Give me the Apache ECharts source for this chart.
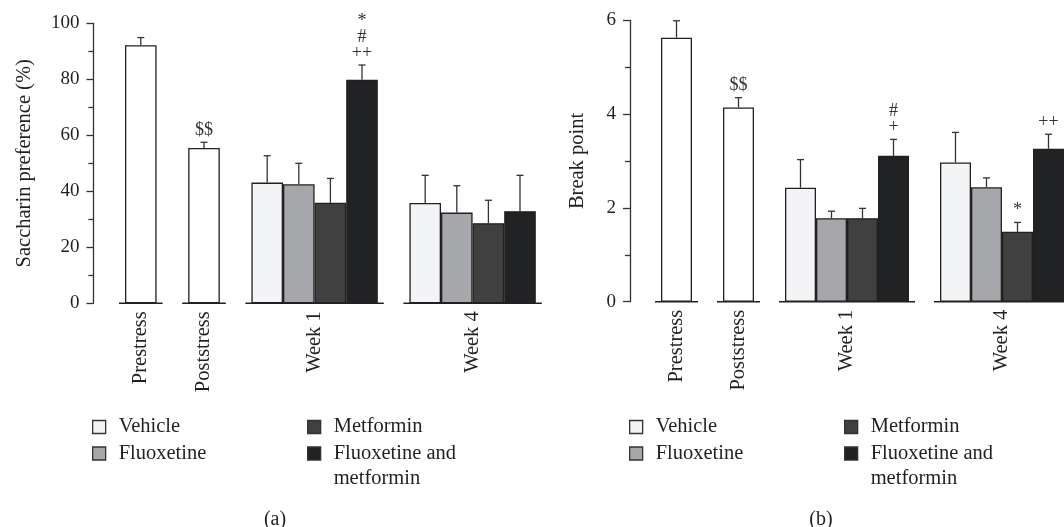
<!DOCTYPE html>
<html>
<head>
<meta charset="utf-8">
<script src="https://cdn.jsdelivr.net/npm/echarts@6/dist/echarts.min.js"></script>
<style>
  html, body { margin: 0; padding: 0; background: #fff; }
  #chart { width: 1064px; height: 527px; }
</style>
</head>
<body>
<div id="chart"></div>
<script>
// categories
const groups = ['Prestress', 'Poststress', 'Week 1', 'Week 4'];
const treatments = ['Vehicle', 'Fluoxetine', 'Metformin', 'Fluoxetine and metformin'];

// (a) saccharin preference (%)
const prefStress = [92.2, 55.5];
const prefStressErr = [2.7, 2.0];
const prefStressMarks = ['', '$$'];
const prefWeek1 = [43.1, 42.5, 35.9, 79.8];
const prefWeek1Err = [9.6, 7.5, 8.7, 5.3];
const prefWeek1Marks = ['', '', '', '*\n#\n++'];
const prefWeek4 = [35.8, 32.4, 28.6, 32.9];
const prefWeek4Err = [9.9, 9.6, 8.2, 12.8];
const prefWeek4Marks = ['', '', '', ''];

// (b) break point
const bpStress = [5.63, 4.14];
const bpStressErr = [0.36, 0.21];
const bpStressMarks = ['', '$$'];
const bpWeek1 = [2.43, 1.78, 1.78, 3.11];
const bpWeek1Err = [0.60, 0.15, 0.21, 0.35];
const bpWeek1Marks = ['', '', '', '#\n+'];
const bpWeek4 = [2.97, 2.44, 1.49, 3.26];
const bpWeek4Err = [0.64, 0.20, 0.20, 0.31];
const bpWeek4Marks = ['', '', '*', '++'];

// colours
const stressColor = '#ffffff';
const treatmentColors = ['#f3f4f6', '#a5a7aa', '#404041', '#212224'];
const ink = '#231f20';
const font = 'Liberation Serif';

// slot layout: gap, Prestress, gap, Poststress, gap, 4 bars (week 1), gap, 4 bars (week 4)
const nSlots = 14;
const stressSlots = [1, 3];
const week1Start = 5;
const week4Start = 10;
const slotNames = Array.from({ length: nSlots }, (_, i) => 's' + i);
const labelPos = { 1.5: groups[0], 3.5: groups[1], 7: groups[2], 12: groups[3] };

function emptySlots() { return Array.from({ length: nSlots }, () => '-'); }

function panelSeries(xi, yi, stress, stressErr, stressMarks, w1, w1Err, w1Marks, w4, w4Err, w4Marks) {
  const series = [];
  const barBase = {
    type: 'bar', xAxisIndex: xi, yAxisIndex: yi, stack: 'p' + yi,
    barWidth: '100%', barGap: '-100%', silent: true
  };
  const sd = emptySlots();
  stressSlots.forEach((s, i) => { sd[s] = stress[i]; });
  series.push(Object.assign({}, barBase, { name: 'stress', data: sd,
    itemStyle: { color: stressColor, borderColor: ink, borderWidth: 1.3 } }));
  treatments.forEach((t, i) => {
    const d = emptySlots();
    d[week1Start + i] = w1[i];
    d[week4Start + i] = w4[i];
    series.push(Object.assign({}, barBase, { name: t, data: d,
      itemStyle: { color: treatmentColors[i], borderColor: ink, borderWidth: 1.3 } }));
  });

  // error bars + significance marks
  const errData = [], marks = [];
  stressSlots.forEach((s, i) => { errData.push([s, stress[i], stressErr[i]]); marks.push(stressMarks[i]); });
  treatments.forEach((t, i) => {
    errData.push([week1Start + i, w1[i], w1Err[i]]); marks.push(w1Marks[i]);
  });
  treatments.forEach((t, i) => {
    errData.push([week4Start + i, w4[i], w4Err[i]]); marks.push(w4Marks[i]);
  });
  series.push({
    type: 'custom', xAxisIndex: xi, yAxisIndex: yi, silent: true, z: 5,
    data: errData,
    renderItem: function (params, api) {
      const p0 = api.coord([api.value(0), api.value(1)]);
      const p1 = api.coord([api.value(0), api.value(1) + api.value(2)]);
      const st = { stroke: '#333', lineWidth: 1.3 };
      const children = [
        { type: 'line', shape: { x1: p0[0], y1: p0[1], x2: p1[0], y2: p1[1] }, style: st },
        { type: 'line', shape: { x1: p1[0] - 3.5, y1: p1[1], x2: p1[0] + 3.5, y2: p1[1] }, style: st }
      ];
      const m = marks[params.dataIndex];
      if (m) {
        children.push({ type: 'text', x: p1[0], y: p1[1] - 4,
          style: { text: m, align: 'center', verticalAlign: 'bottom', fontFamily: font,
                   fontSize: 18, lineHeight: 16, fill: '#333' } });
      }
      return { type: 'group', children: children };
    }
  });

  // broken baseline under each group
  const spans = [[1, 1], [3, 3], [week1Start, week1Start + 3], [week4Start, week4Start + 3]];
  series.push({
    type: 'custom', xAxisIndex: xi, yAxisIndex: yi, silent: true, z: 6,
    data: spans,
    renderItem: function (params, api) {
      const a = api.coord([api.value(0), 0]);
      const b = api.coord([api.value(1), 0]);
      const half = api.size([1, 0])[0] / 2;
      return { type: 'line',
        shape: { x1: a[0] - half - 6, y1: a[1], x2: b[0] + half + 6, y2: b[1] },
        style: { stroke: ink, lineWidth: 1.5 } };
    }
  });
  return series;
}

function catAxis(gi) {
  return { type: 'category', gridIndex: gi, data: slotNames, position: 'bottom', show: false, boundaryGap: true };
}
function labelAxis(gi) {
  return {
    type: 'value', gridIndex: gi, position: 'bottom', min: 0, max: nSlots, interval: 0.5,
    axisLine: { show: false }, axisTick: { show: false }, splitLine: { show: false },
    axisLabel: { rotate: 90, margin: 8, color: ink, fontFamily: font, fontSize: 20.5,
      formatter: v => labelPos[v] || '' }
  };
}
function valAxis(gi, max, interval, name, gap) {
  return {
    type: 'value', gridIndex: gi, min: 0, max: max, interval: interval,
    name: name, nameLocation: 'middle', nameGap: gap,
    nameTextStyle: { color: ink, fontFamily: font, fontSize: 20.5 },
    axisLine: { show: true, lineStyle: { color: '#333', width: 1.3 } },
    axisTick: { show: true, length: 7, lineStyle: { color: '#333', width: 1.3 } },
    minorTick: { show: true, splitNumber: 2, length: 5, lineStyle: { color: '#333', width: 1.3 } },
    splitLine: { show: false }, minorSplitLine: { show: false },
    axisLabel: { margin: 14, color: ink, fontFamily: font, fontSize: 19 }
  };
}

// legend: one entry per item so the two columns line up like the figure
const legendTextStyle = { color: ink, fontFamily: font, fontSize: 20.5, lineHeight: 25, padding: [0, 0, 0, 8] };
function legendItem(name, left, rowCenter) {
  const multi = name === treatments[3];
  return {
    data: [{ name: name }],
    textStyle: legendTextStyle,
    left: left, top: multi ? rowCenter - 37.5 : rowCenter - 12.5,
    padding: 0, itemWidth: 13, itemHeight: 13, icon: 'rect', selectedMode: false,
    itemStyle: { borderColor: '#333', borderWidth: 1.3 },
    // leading blank line keeps the first text line level with the icon
    formatter: n => n === treatments[3] ? '\nFluoxetine and\nmetformin' : n
  };
}
const legends = [];
[[92, 307], [629, 844]].forEach(cols => {
  legends.push(legendItem(treatments[0], cols[0], 427));
  legends.push(legendItem(treatments[1], cols[0], 453.5));
  legends.push(legendItem(treatments[2], cols[1], 427));
  legends.push(legendItem(treatments[3], cols[1], 453.5));
});

const chart = echarts.init(document.getElementById('chart'), null, { renderer: 'canvas' });
chart.setOption({
  animation: false,
  backgroundColor: '#fff',
  title: [
    { text: '(a)', left: 270, top: 505, textAlign: 'center',
      textStyle: { color: ink, fontFamily: font, fontSize: 20, fontWeight: 'normal' } },
    { text: '(b)', left: 816, top: 505, textAlign: 'center',
      textStyle: { color: ink, fontFamily: font, fontSize: 20, fontWeight: 'normal' } }
  ],
  legend: legends,
  grid: [
    { left: 93.4, width: 31.6 * nSlots, top: 23.3, bottom: 223.7 },
    { left: 630, width: 31.8 * nSlots, top: 20.3, bottom: 225.3 }
  ],
  xAxis: [catAxis(0), labelAxis(0), catAxis(1), labelAxis(1)],
  yAxis: [
    valAxis(0, 100, 20, 'Saccharin preference (%)', 58),
    valAxis(1, 6, 2, 'Break point', 42)
  ],
  series: [].concat(
    panelSeries(0, 0, prefStress, prefStressErr, prefStressMarks,
      prefWeek1, prefWeek1Err, prefWeek1Marks, prefWeek4, prefWeek4Err, prefWeek4Marks),
    panelSeries(2, 1, bpStress, bpStressErr, bpStressMarks,
      bpWeek1, bpWeek1Err, bpWeek1Marks, bpWeek4, bpWeek4Err, bpWeek4Marks)
  )
});
</script>
</body>
</html>
